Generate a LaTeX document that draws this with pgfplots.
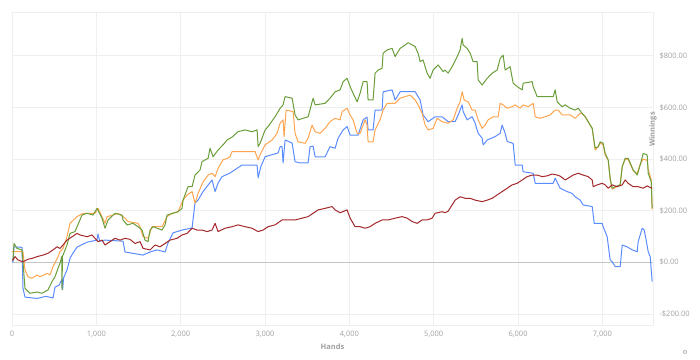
\documentclass[border=0pt]{standalone}
\usepackage{pgfplots}
\pgfplotsset{compat=1.18}
\usepackage{fontspec}
\setmainfont{Open Sans}
\newfontfamily\symfont{DejaVu Sans}
\definecolor{cblue}{HTML}{5B8CFF}
\definecolor{corange}{HTML}{FFA54F}
\definecolor{cgreen}{HTML}{6A9E3A}
\definecolor{cred}{HTML}{A3282A}
\definecolor{gridc}{HTML}{EFEFEF}
\definecolor{labc}{HTML}{A0A0A0}
\definecolor{zeroc}{HTML}{C4C4C4}
\begin{document}
\begin{tikzpicture}
\useasboundingbox (-12pt,-34pt) rectangle (688pt,325pt);
\begin{axis}[
  at={(0,0)}, anchor=south west,
  scale only axis, width=641pt, height=313pt,
  xmin=0, xmax=7600, ymin=-243, ymax=970,
  axis line style={draw=gridc, line width=0.8pt},
  grid=major, grid style={draw=gridc, line width=0.8pt},
  xtick={0,1000,2000,3000,4000,5000,6000,7000},
  xticklabels={0,{1,000},{2,000},{3,000},{4,000},{5,000},{6,000},{7,000}},
  ytick={-200,0,200,400,600,800},
  yticklabels={-\$200.00,\$0.00,\$200.00,\$400.00,\$600.00,\$800.00},
  yticklabel pos=right,
  major tick length=0pt,
  tick label style={font=\fontsize{7.5}{9}\selectfont, text=labc},
  xticklabel style={yshift=-2.5pt},
  yticklabel style={xshift=3pt},
  xlabel={Hands}, ylabel={Winnings},
  label style={font=\fontsize{7.5}{9}\selectfont\bfseries, text=labc},
  xlabel style={at={(axis description cs:0.5,0)}, anchor=center, yshift=-22pt},
  ylabel style={at={(axis description cs:1,0.5)}, anchor=center, xshift=39pt},
  every axis plot/.append style={line width=1pt, line join=round},
]
\addplot[zeroc, line width=1pt] coordinates {(0,0) (7600,0)};
% blue
\addplot[cblue] coordinates {
(0,2) (12,2) (24,60) (119,58) (130,-100) (154,-135) (300,-140) (400,-132) (486,-138) (510,-96) (560,-88) (593,-65) (600,-105) (612,-60) (652,-30) (688,15) (712,30) (771,59) (890,78) (1008,86) (1020,110) (1040,82) (1100,86) (1316,82) (1340,40) (1554,28) (1637,40) (1720,48) (1815,40) (1850,75) (1909,114) (2016,125) (2135,133) (2170,230) (2206,241) (2265,274) (2372,319) (2408,274) (2443,307) (2491,332) (2585,346) (2728,377) (2906,377) (2918,327) (2950,371) (3001,409) (3155,424) (3179,448) (3202,448) (3214,385) (3238,474) (3321,462) (3356,390) (3416,385) (3511,385) (3534,448) (3570,450) (3594,409) (3712,409) (3771,448) (3831,442) (3866,481) (3926,513) (3973,526) (4009,493) (4104,493) (4163,552) (4210,563) (4222,513) (4281,513) (4305,590) (4388,590) (4400,661) (4507,668) (4542,629) (4602,661) (4780,661) (4839,629) (4874,571) (4934,545) (5017,564) (5100,564) (5171,545) (5254,545) (5290,571) (5337,610) (5349,584) (5396,552) (5456,564) (5491,539) (5527,500) (5574,481) (5586,455) (5634,474) (5728,487) (5788,500) (5811,532) (5847,500) (5871,468) (5942,461) (5966,377) (6049,377) (6060,351) (6179,345) (6203,306) (6416,306) (6440,326) (6499,287) (6582,274) (6642,267) (6677,254) (6737,241) (6772,222) (6879,216) (6903,151) (6997,151) (7009,138) (7057,99) (7069,67) (7092,9) (7116,2) (7128,-4) (7152,-17) (7211,-17) (7235,67) (7294,60) (7353,48) (7413,41) (7424,80) (7472,132) (7496,125) (7519,86) (7543,41) (7567,22) (7590,-75)
};
% orange
\addplot[corange] coordinates {
(0,41) (12,41) (130,41) (154,-30) (190,-56) (237,-62) (297,-49) (332,-56) (415,-43) (451,-49) (486,-17) (546,22) (569,41) (605,54) (652,99) (688,151) (771,177) (842,190) (984,190) (1020,209) (1067,177) (1103,151) (1127,177) (1198,183) (1257,190) (1340,171) (1376,158) (1494,151) (1518,138) (1554,99) (1613,93) (1660,138) (1779,138) (1838,177) (1898,190) (1969,196) (2028,241) (2076,261) (2135,274) (2170,229) (2206,267) (2265,312) (2325,338) (2372,345) (2408,332) (2443,364) (2502,397) (2550,403) (2585,409) (2609,429) (2882,429) (2918,397) (2941,416) (3001,455) (3084,474) (3143,500) (3179,539) (3214,552) (3226,487) (3250,590) (3333,584) (3356,500) (3392,467) (3475,461) (3511,481) (3558,532) (3594,506) (3653,500) (3712,519) (3771,545) (3831,558) (3890,552) (3914,584) (3973,597) (4009,571) (4044,552) (4092,500) (4127,500) (4187,552) (4210,532) (4222,467) (4281,467) (4305,513) (4364,552) (4400,590) (4448,616) (4542,616) (4602,636) (4720,648) (4780,629) (4815,610) (4863,577) (4898,532) (4934,513) (4993,519) (5040,558) (5100,545) (5171,539) (5230,552) (5278,597) (5313,622) (5337,661) (5361,629) (5408,622) (5456,590) (5491,590) (5527,552) (5574,519) (5610,532) (5645,552) (5705,564) (5764,564) (5788,616) (5823,610) (5871,597) (5930,603) (5966,610) (6025,597) (6060,610) (6120,603) (6179,616) (6203,564) (6262,558) (6321,564) (6381,571) (6440,590) (6476,590) (6523,571) (6618,571) (6677,558) (6737,577) (6760,577) (6796,564) (6831,545) (6879,519) (6891,490) (6914,435) (6950,448) (6974,462) (7009,455) (7033,415) (7069,395) (7092,320) (7116,283) (7152,290) (7211,300) (7235,370) (7270,400) (7306,398) (7365,355) (7413,345) (7448,380) (7484,400) (7531,395) (7543,360) (7579,320) (7590,205)
};
% green
\addplot[cgreen] coordinates {
(0,9) (12,9) (24,73) (59,54) (119,48) (154,-101) (213,-120) (297,-115) (356,-120) (427,-107) (474,-75) (510,-56) (546,-23) (569,-4) (590,22) (593,-107) (598,22) (652,67) (688,112) (747,119) (830,183) (890,190) (961,183) (1008,209) (1067,171) (1103,132) (1139,164) (1222,190) (1305,183) (1316,164) (1364,145) (1435,151) (1494,138) (1542,125) (1577,86) (1613,80) (1637,125) (1672,138) (1779,125) (1815,145) (1838,183) (1969,196) (2016,209) (2028,241) (2087,293) (2135,293) (2170,338) (2230,358) (2253,390) (2325,403) (2348,442) (2384,409) (2443,435) (2502,455) (2550,474) (2609,485) (2680,506) (2763,513) (2846,506) (2906,513) (2918,448) (2941,461) (3001,513) (3036,526) (3119,564) (3179,597) (3214,610) (3238,642) (3321,636) (3356,571) (3392,552) (3511,564) (3570,636) (3594,610) (3712,616) (3771,636) (3831,661) (3890,668) (3926,700) (3973,713) (4009,681) (4044,655) (4092,622) (4127,655) (4163,700) (4210,700) (4222,629) (4281,629) (4305,733) (4341,745) (4388,752) (4400,810) (4448,823) (4507,829) (4542,797) (4602,829) (4661,842) (4697,851) (4780,836) (4815,810) (4839,778) (4874,784) (4922,733) (4957,713) (4993,745) (5052,765) (5112,739) (5135,745) (5171,733) (5218,758) (5278,797) (5313,823) (5337,868) (5349,842) (5396,829) (5432,810) (5467,778) (5515,778) (5527,707) (5574,687) (5634,713) (5693,733) (5752,745) (5788,790) (5823,803) (5847,745) (5906,758) (5942,694) (5989,681) (6049,668) (6060,694) (6167,700) (6179,681) (6227,642) (6416,642) (6440,668) (6464,622) (6499,610) (6523,603) (6559,610) (6618,597) (6677,590) (6713,597) (6760,577) (6796,564) (6831,545) (6879,519) (6891,493) (6914,442) (6950,448) (6974,467) (7009,461) (7033,422) (7069,397) (7092,326) (7116,287) (7152,293) (7211,300) (7235,371) (7270,403) (7306,403) (7365,358) (7413,338) (7448,377) (7484,422) (7531,416) (7543,345) (7579,312) (7590,209)
};
% red
\addplot[cred] coordinates {
(0,9) (12,9) (36,22) (71,9) (130,2) (190,12) (237,15) (297,22) (368,28) (427,35) (486,48) (534,60) (569,54) (605,67) (652,86) (712,99) (771,112) (806,106) (890,99) (949,106) (984,93) (1020,80) (1067,86) (1103,67) (1162,80) (1222,93) (1281,86) (1340,93) (1399,89) (1459,73) (1518,80) (1554,54) (1637,48) (1696,67) (1755,60) (1815,73) (1874,86) (1957,93) (2016,106) (2076,112) (2135,132) (2194,125) (2253,125) (2313,119) (2372,125) (2408,151) (2443,119) (2526,132) (2609,138) (2680,145) (2763,138) (2846,132) (2918,119) (2977,125) (3036,138) (3119,145) (3202,164) (3273,164) (3356,164) (3439,171) (3511,177) (3570,190) (3629,203) (3712,209) (3795,216) (3831,203) (3890,192) (3973,203) (4009,171) (4068,138) (4127,138) (4187,132) (4246,138) (4305,151) (4388,164) (4459,164) (4542,171) (4625,177) (4685,171) (4744,158) (4803,151) (4863,164) (4922,164) (4981,171) (5017,190) (5100,196) (5135,192) (5171,198) (5218,222) (5254,241) (5313,254) (5373,248) (5432,248) (5491,241) (5574,235) (5634,241) (5693,248) (5752,261) (5811,274) (5871,287) (5930,300) (5989,306) (6049,319) (6108,332) (6167,338) (6227,338) (6286,332) (6345,335) (6404,342) (6464,338) (6499,334) (6559,319) (6594,326) (6653,338) (6713,345) (6772,338) (6831,332) (6879,319) (6891,293) (6938,300) (6997,306) (7033,300) (7069,287) (7116,300) (7175,293) (7235,300) (7270,319) (7306,306) (7365,293) (7424,293) (7484,287) (7531,296) (7567,290) (7590,287)
};
\end{axis}
\node[text=labc, font=\symfont\fontsize{6}{7}\selectfont] at (673pt,-27pt) {⚙};
\end{tikzpicture}
\end{document}
